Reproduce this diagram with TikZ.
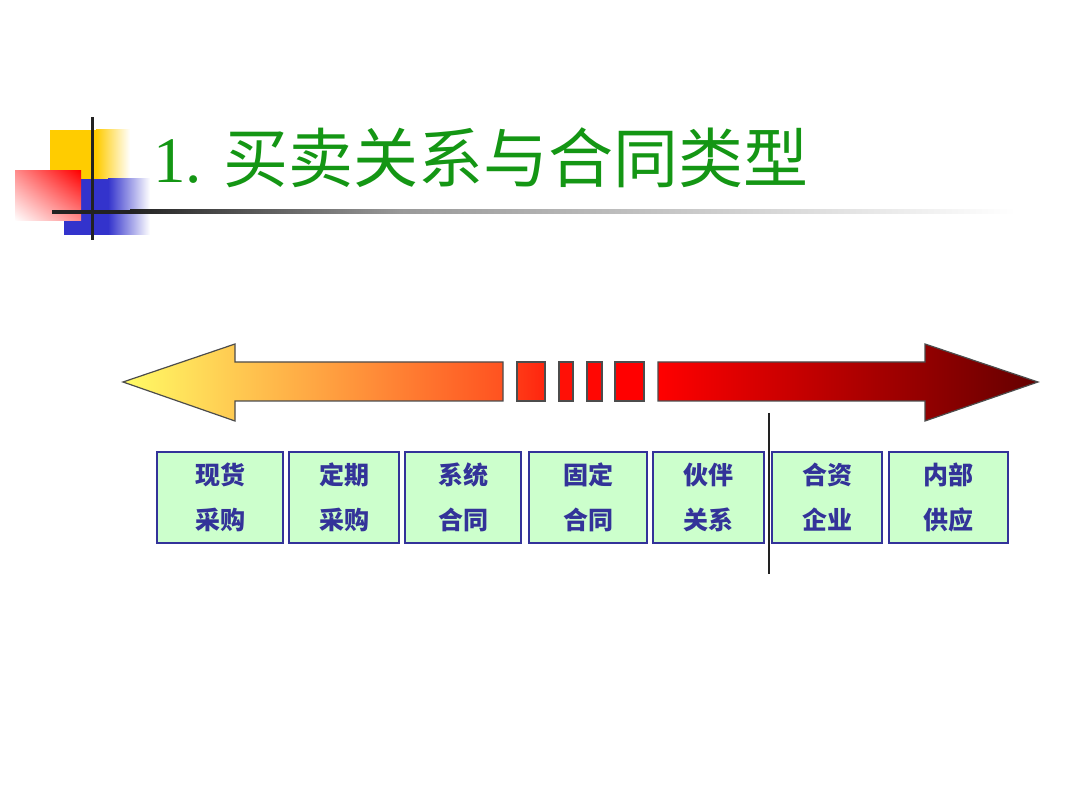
\documentclass[tikz,border=0pt]{standalone}
\usepackage{fontspec}
\setmainfont{Liberation Serif}
\newfontfamily\cjk{Noto Sans CJK SC}
\usepackage{xcolor}
\usepackage{tikz}
\usetikzlibrary{positioning,calc,shadings}
\definecolor{titlegreen}{RGB}{20,150,20}
\definecolor{decoyellow}{RGB}{255,204,0}
\definecolor{decoblue}{RGB}{51,51,204}
\definecolor{decored}{RGB}{255,0,0}
\definecolor{rulegrey}{RGB}{34,34,34}
\definecolor{boxbg}{RGB}{204,255,204}
\definecolor{boxline}{RGB}{51,51,153}
\definecolor{tipyellow}{RGB}{255,252,102}
\definecolor{midorange}{RGB}{255,180,70}
\definecolor{endorange}{RGB}{255,82,32}
\definecolor{darkred}{RGB}{100,0,0}
\tikzset{
  kind/.style={draw=boxline,fill=boxbg,line width=2pt,inner sep=0pt,
               minimum height=91pt,align=center,text=boxline,
               font=\cjk\bfseries\fontsize{25}{45}\selectfont},
  arrowedge/.style={draw=black!70,line width=1.2pt,line join=miter},
  gapbox/.style={arrowedge},
}

\begin{document}
\begin{tikzpicture}[x=1pt,y=-1pt]
  \useasboundingbox[fill=white] (0,0) rectangle (1080,810);

  % corner decoration
  \fill[decoyellow] (50,130) rectangle (96,180);
  \shade[left color=decoyellow,right color=white] (96,130) rectangle (130,180);
  \fill[decoblue] (64,179) rectangle (108,235);
  \shade[left color=decoblue,right color=white] (108,179) rectangle (150,235);
  \shade[upper right=decored,lower left=white,upper left=decored!45!white,
         lower right=decored!45!white] (15,171) rectangle (81,221);
  \fill[rulegrey] (52,210) rectangle (130,214);
  \shade[left color=rulegrey,right color=black!40] (130,210) rectangle (400,214);
  \shade[left color=black!40,right color=white] (400,210) rectangle (1015,214);
  \fill[rulegrey] (90.5,117) rectangle (93.5,240);

  \node[anchor=base west,inner sep=0pt,text=titlegreen,font=\fontsize{65}{70}\selectfont]
    (title) at (153,183) {1. {\cjk 买卖关系与合同类型}};

  % double arrow, broken in the middle
  \shadedraw[arrowedge,left color=tipyellow,middle color=midorange,right color=endorange]
    (123,382) -- (235,344) -- (235,362) -- (503,362) -- (503,401)
    -- (235,401) -- (235,421) -- cycle;
  \shadedraw[gapbox,left color=endorange!70!red,right color=endorange!45!red]
    (517,362) rectangle (545,401);
  \filldraw[gapbox,fill=endorange!20!red] (559,362) rectangle (573,401);
  \filldraw[gapbox,fill=endorange!8!red] (587,362) rectangle (602,401);
  \filldraw[gapbox,fill=red] (615,362) rectangle (644,401);
  \shadedraw[arrowedge,left color=red,right color=darkred]
    (658,362) -- (925,362) -- (925,344) -- (1038,382) -- (925,421)
    -- (925,401) -- (658,401) -- cycle;

  % relation types
  \node[kind,minimum width=126pt] (spot)     at (220,497.5) {现货\\采购};
  \node[kind,minimum width=110pt] (term)     at (344,497.5) {定期\\采购};
  \node[kind,minimum width=116pt] (system)   at (463,497.5) {系统\\合同};
  \node[kind,minimum width=118pt] (fixed)    at (588,497.5) {固定\\合同};
  \node[kind,minimum width=111pt] (partner)  at (708.5,497.5) {伙伴\\关系};
  \node[kind,minimum width=110pt] (joint)    at (827,497.5) {合资\\企业};
  \node[kind,minimum width=119pt] (internal) at (948.5,497.5) {内部\\供应};

  \coordinate (divtop) at (769,413);
  \coordinate (divbot) at (769,574);
  \draw[rulegrey,line width=1.3pt] (divtop) -- (divbot);
\end{tikzpicture}
\end{document}
